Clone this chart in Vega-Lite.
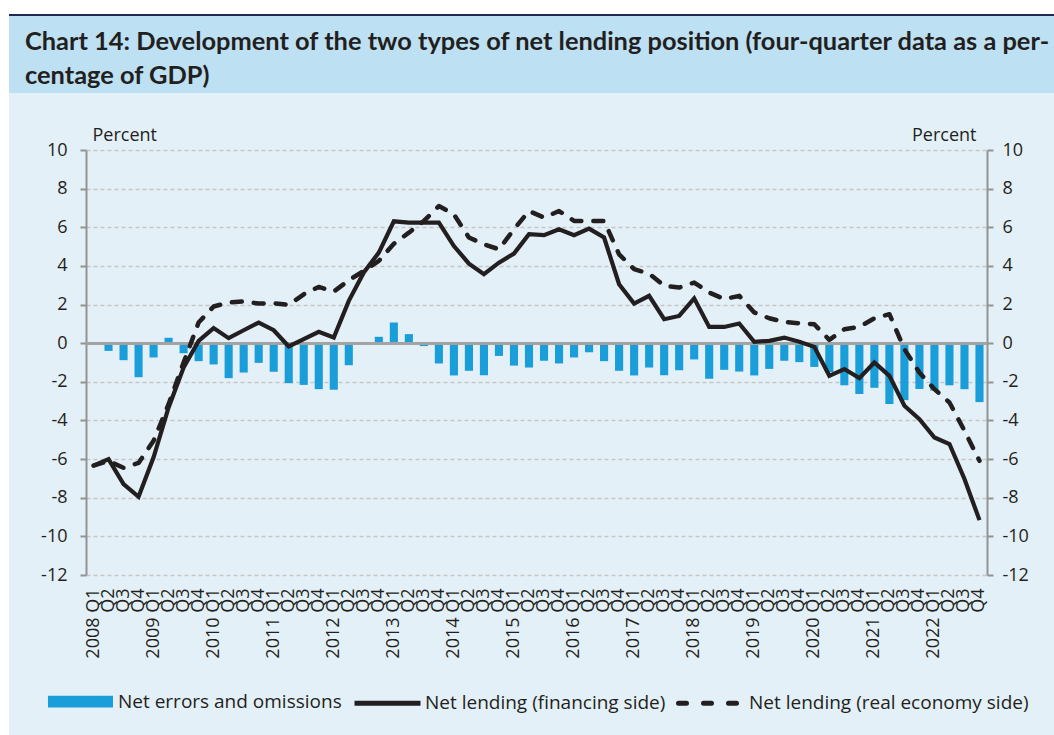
{
  "$schema": "https://vega.github.io/schema/vega-lite/v6.json",
  "background": "#e3f0f7",
  "padding": 0,
  "config": {"view": {"stroke": null}},
  "bounds": "flush",
  "spacing": 0,
  "hconcat": [
    {"width": 9, "height": 735, "data": {"values": []}, "mark": "rect", "view": {"fill": "#ffffff", "stroke": null}},
    {
      "bounds": "flush",
      "spacing": 0,
      "vconcat": [
        {"width": 1045, "height": 14, "data": {"values": []}, "mark": "rect", "view": {"fill": "#ffffff", "stroke": null}},
        {"width": 1045, "height": 2, "data": {"values": []}, "mark": "rect", "view": {"fill": "#1f2a55", "stroke": null}},
        {
          "width": 1045, "height": 77, "data": {"values": []}, "mark": "rect",
          "view": {"fill": "#bde0f3", "stroke": null},
          "title": {
            "text": ["Chart 14: Development of the two types of net lending position (four-quarter data as a per-", "centage of GDP)"],
            "anchor": "start", "frame": "group", "orient": "top", "offset": -73, "dx": 16,
            "font": "Lato", "fontSize": 25.4, "fontWeight": "bold", "color": "#231f20", "lineHeight": 34
          }
        },
        {"width": 1045, "height": 57, "data": {"values": []}, "mark": "rect"},
        {
          "bounds": "flush",
          "spacing": 0,
          "hconcat": [
            {"width": 77, "height": 425, "data": {"values": []}, "mark": "rect"},
            {
              "width": 901,
              "height": 425,
              "data": {"values": [
                {"q": "2008 Q1", "neo": 0, "fin": -6.34, "real": -6.34},
                {"q": "2008 Q2", "neo": -0.4, "fin": -6.0, "real": -6.1},
                {"q": "2008 Q3", "neo": -0.88, "fin": -7.29, "real": -6.45},
                {"q": "2008 Q4", "neo": -1.76, "fin": -7.95, "real": -6.2},
                {"q": "2009 Q1", "neo": -0.74, "fin": -5.91, "real": -5.05},
                {"q": "2009 Q2", "neo": 0.28, "fin": -3.33, "real": -3.16},
                {"q": "2009 Q3", "neo": -0.52, "fin": -1.26, "real": -1.0},
                {"q": "2009 Q4", "neo": -0.93, "fin": 0.12, "real": 1.07},
                {"q": "2010 Q1", "neo": -1.1, "fin": 0.78, "real": 1.9},
                {"q": "2010 Q2", "neo": -1.81, "fin": 0.26, "real": 2.1},
                {"q": "2010 Q3", "neo": -1.52, "fin": 0.67, "real": 2.16},
                {"q": "2010 Q4", "neo": -1.02, "fin": 1.07, "real": 2.05},
                {"q": "2011 Q1", "neo": -1.48, "fin": 0.67, "real": 2.07},
                {"q": "2011 Q2", "neo": -2.07, "fin": -0.17, "real": 1.98},
                {"q": "2011 Q3", "neo": -2.16, "fin": 0.21, "real": 2.53},
                {"q": "2011 Q4", "neo": -2.38, "fin": 0.59, "real": 2.91},
                {"q": "2012 Q1", "neo": -2.41, "fin": 0.29, "real": 2.67},
                {"q": "2012 Q2", "neo": -1.14, "fin": 2.19, "real": 3.26},
                {"q": "2012 Q3", "neo": 0, "fin": 3.66, "real": 3.74},
                {"q": "2012 Q4", "neo": 0.33, "fin": 4.69, "real": 4.26},
                {"q": "2013 Q1", "neo": 1.07, "fin": 6.31, "real": 5.15},
                {"q": "2013 Q2", "neo": 0.47, "fin": 6.24, "real": 5.72},
                {"q": "2013 Q3", "neo": -0.15, "fin": 6.24, "real": 6.33},
                {"q": "2013 Q4", "neo": -1.05, "fin": 6.24, "real": 7.1},
                {"q": "2014 Q1", "neo": -1.67, "fin": 5.03, "real": 6.67},
                {"q": "2014 Q2", "neo": -1.43, "fin": 4.12, "real": 5.47},
                {"q": "2014 Q3", "neo": -1.66, "fin": 3.57, "real": 5.12},
                {"q": "2014 Q4", "neo": -0.66, "fin": 4.17, "real": 4.86},
                {"q": "2015 Q1", "neo": -1.16, "fin": 4.64, "real": 5.9},
                {"q": "2015 Q2", "neo": -1.26, "fin": 5.64, "real": 6.84},
                {"q": "2015 Q3", "neo": -0.91, "fin": 5.59, "real": 6.5},
                {"q": "2015 Q4", "neo": -1.05, "fin": 5.9, "real": 6.84},
                {"q": "2016 Q1", "neo": -0.74, "fin": 5.59, "real": 6.33},
                {"q": "2016 Q2", "neo": -0.47, "fin": 5.93, "real": 6.33},
                {"q": "2016 Q3", "neo": -0.93, "fin": 5.47, "real": 6.33},
                {"q": "2016 Q4", "neo": -1.43, "fin": 3.05, "real": 4.6},
                {"q": "2017 Q1", "neo": -1.67, "fin": 2.05, "real": 3.83},
                {"q": "2017 Q2", "neo": -1.26, "fin": 2.45, "real": 3.6},
                {"q": "2017 Q3", "neo": -1.66, "fin": 1.24, "real": 2.97},
                {"q": "2017 Q4", "neo": -1.4, "fin": 1.41, "real": 2.88},
                {"q": "2018 Q1", "neo": -0.84, "fin": 2.32, "real": 3.14},
                {"q": "2018 Q2", "neo": -1.84, "fin": 0.84, "real": 2.62},
                {"q": "2018 Q3", "neo": -1.38, "fin": 0.84, "real": 2.28},
                {"q": "2018 Q4", "neo": -1.47, "fin": 1.02, "real": 2.45},
                {"q": "2019 Q1", "neo": -1.67, "fin": 0.07, "real": 1.59},
                {"q": "2019 Q2", "neo": -1.33, "fin": 0.12, "real": 1.29},
                {"q": "2019 Q3", "neo": -0.91, "fin": 0.29, "real": 1.1},
                {"q": "2019 Q4", "neo": -0.98, "fin": 0.07, "real": 1.03},
                {"q": "2020 Q1", "neo": -1.23, "fin": -0.19, "real": 0.98},
                {"q": "2020 Q2", "neo": -1.5, "fin": -1.69, "real": 0.17},
                {"q": "2020 Q3", "neo": -2.18, "fin": -1.34, "real": 0.72},
                {"q": "2020 Q4", "neo": -2.63, "fin": -1.81, "real": 0.84},
                {"q": "2021 Q1", "neo": -2.31, "fin": -1.0, "real": 1.29},
                {"q": "2021 Q2", "neo": -3.15, "fin": -1.69, "real": 1.5},
                {"q": "2021 Q3", "neo": -2.95, "fin": -3.24, "real": -0.31},
                {"q": "2021 Q4", "neo": -2.37, "fin": -3.93, "real": -1.52},
                {"q": "2022 Q1", "neo": -2.45, "fin": -4.88, "real": -2.38},
                {"q": "2022 Q2", "neo": -2.18, "fin": -5.22, "real": -3.07},
                {"q": "2022 Q3", "neo": -2.38, "fin": -7.03, "real": -4.53},
                {"q": "2022 Q4", "neo": -3.05, "fin": -9.16, "real": -6.09}
              ]},
              "resolve": {"axis": {"y": "independent"}},
              "layer": [
                {
                  "mark": {"type": "bar"},
                  "encoding": {
                    "x": {
                      "field": "q", "type": "ordinal", "sort": null,
                      "scale": {"paddingInner": 0.46, "paddingOuter": 0.23},
                      "axis": {
                        "orient": "bottom", "domain": false, "ticks": false, "grid": false,
                        "labelAngle": 270, "labelPadding": 13, "labelFont": "Open Sans", "labelFontSize": 18,
                        "labelColor": "#231f20", "labelOverlap": false, "labelBound": false, "title": null,
                        "labelExpr": "slice(datum.value, 5) == 'Q1' ? slice(datum.value, 0, 4) + '   Q1' : slice(datum.value, 5)"
                      }
                    },
                    "y": {
                      "field": "neo", "type": "quantitative",
                      "scale": {"domain": [-12, 10], "nice": false, "zero": false},
                      "axis": {
                        "orient": "left", "values": [-12, -10, -8, -6, -4, -2, 0, 2, 4, 6, 8, 10],
                        "labelExpr": "datum.value < 0 ? '-' + abs(datum.value) : '' + datum.value",
                        "grid": true, "gridColor": "#c6c6c6", "gridDash": [4, 3], "gridWidth": 1.5,
                        "domainColor": "#939393", "domainWidth": 2, "tickColor": "#939393", "tickWidth": 2, "tickSize": 6,
                        "labelPadding": 13, "labelFont": "Open Sans", "labelFontSize": 18, "labelColor": "#231f20",
                        "title": "Percent", "titleAngle": 0, "titleX": 6, "titleY": -10, "titleAlign": "left",
                        "titleBaseline": "alphabetic", "titleFont": "Open Sans", "titleFontSize": 18,
                        "titleFontWeight": "normal", "titleColor": "#231f20"
                      }
                    },
                    "color": {
                      "datum": "Net errors and omissions", "type": "nominal",
                      "scale": {
                        "domain": ["Net errors and omissions", "Net lending (financing side)", "Net lending (real economy side)"],
                        "range": ["#1a9ed9", "#231f20", "#231f20"]
                      },
                      "legend": {
                        "orient": "none", "legendX": 45, "legendY": 666, "direction": "horizontal", "title": null,
                        "symbolSize": 4356, "labelOffset": 2, "columnPadding": 2, "padding": 0, "labelLimit": 500,
                        "labelFont": "Open Sans", "labelFontSize": 19, "labelColor": "#231f20",
                        "encode": {
                          "symbols": {
                            "update": {
                              "shape": {"signal": "datum.value == 'Net errors and omissions' ? 'M-0.91,-0.1H0.91V0.1H-0.91Z' : 'M-1,0H1'"},
                              "fill": {"signal": "datum.value == 'Net errors and omissions' ? '#1a9ed9' : 'transparent'"},
                              "stroke": {"signal": "datum.value == 'Net errors and omissions' ? 'transparent' : '#231f20'"},
                              "strokeDash": {"signal": "datum.value == 'Net lending (real economy side)' ? [8, 17] : [1, 0]"},
                              "strokeWidth": {"value": 5},
                              "strokeCap": {"signal": "datum.value == 'Net lending (real economy side)' ? 'round' : 'butt'"},
                              "opacity": {"value": 1}
                            }
                          }
                        }
                      }
                    }
                  }
                },
                {
                  "mark": {"type": "rule", "color": "#a3a3a3", "strokeWidth": 2},
                  "encoding": {"y": {"datum": 0, "type": "quantitative", "axis": null}}
                },
                {
                  "mark": {"type": "line", "strokeWidth": 4.2, "strokeJoin": "miter"},
                  "encoding": {
                    "x": {"field": "q", "type": "ordinal", "sort": null},
                    "y": {"field": "fin", "type": "quantitative", "axis": null},
                    "color": {"datum": "Net lending (financing side)", "type": "nominal"}
                  }
                },
                {
                  "mark": {"type": "line", "strokeWidth": 4.5, "strokeDash": [10, 12], "strokeCap": "round", "strokeJoin": "round"},
                  "encoding": {
                    "x": {"field": "q", "type": "ordinal", "sort": null},
                    "y": {
                      "field": "real", "type": "quantitative",
                      "axis": {
                        "orient": "right", "values": [-12, -10, -8, -6, -4, -2, 0, 2, 4, 6, 8, 10],
                        "labelExpr": "datum.value < 0 ? '-' + abs(datum.value) : '' + datum.value",
                        "grid": false,
                        "domainColor": "#939393", "domainWidth": 2, "tickColor": "#939393", "tickWidth": 2, "tickSize": 6,
                        "labelPadding": 9, "labelFont": "Open Sans", "labelFontSize": 18, "labelColor": "#231f20",
                        "title": "Percent", "titleAngle": 0, "titleX": -11, "titleY": -10, "titleAlign": "right",
                        "titleBaseline": "alphabetic", "titleFont": "Open Sans", "titleFontSize": 18,
                        "titleFontWeight": "normal", "titleColor": "#231f20"
                      }
                    },
                    "color": {"datum": "Net lending (real economy side)", "type": "nominal"}
                  }
                }
              ]
            }
          ]
        }
      ]
    }
  ]
}
